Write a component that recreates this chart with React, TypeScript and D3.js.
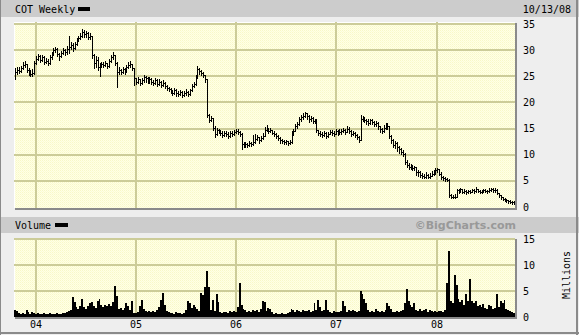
import React from 'react';
import * as d3 from 'd3';

const W = 579;
const H = 335;

const seriesTitle = 'COT Weekly';
const lastDateLabel = '10/13/08';
const firstWeek = new Date(2003, 9, 17);

const closes = [
  25.8, 26.2, 26.0, 26.5, 27.2, 27.4, 26.2, 25.8, 25.4, 25.6,
  27.6, 28.4, 28.8, 28.2, 28.6, 27.8, 28.0, 27.6, 28.6, 29.2,
  30.0, 30.2, 29.2, 28.8, 29.4, 30.0, 29.6, 30.2, 30.6, 31.0,
  30.4, 31.2, 32.0, 32.4, 32.8, 33.4, 33.0, 33.2, 32.6, 32.8,
  29.0, 27.6, 28.2, 26.8, 27.0, 27.4, 27.2, 27.6, 27.0, 28.0,
  28.6, 29.0, 27.6, 25.8, 26.2, 25.8, 26.4, 26.0, 26.8, 27.2,
  27.4, 26.6, 24.6, 24.0, 24.4, 23.8, 24.2, 24.8, 24.6, 24.2,
  24.4, 24.0, 23.8, 24.2, 23.6, 24.0, 23.4, 23.8, 23.2, 22.8,
  22.6, 22.2, 21.8, 22.4, 21.8, 21.6, 22.0, 21.4, 21.8, 22.0,
  21.6, 22.4, 23.2, 23.6, 24.8, 26.4, 26.0, 25.6, 25.2, 24.4,
  17.6, 16.6, 17.0, 15.2, 14.0, 14.8, 14.6, 14.2, 13.8, 14.2,
  14.0, 13.6, 14.2, 14.0, 14.4, 14.6, 14.4, 14.0, 12.0, 11.8,
  12.0, 11.8, 12.2, 12.0, 12.4, 13.0, 13.4, 12.8, 13.2, 13.6,
  14.8, 15.2, 14.6, 14.8, 14.2, 14.0, 13.6, 13.2, 12.8, 12.6,
  12.4, 12.6, 12.2, 12.4, 13.8, 14.6, 15.4, 15.8, 16.8, 17.2,
  17.4, 18.0, 17.4, 16.8, 17.0, 16.4, 16.6, 14.8, 14.2, 14.0,
  13.8, 14.2, 13.6, 14.0, 14.4, 14.2, 14.0, 14.6, 14.2, 14.4,
  14.6, 14.8, 14.4, 15.0, 14.6, 14.0, 14.2, 13.8, 13.4, 12.9,
  16.8, 17.2, 16.6, 16.4, 16.0, 16.6, 16.2, 15.8, 16.0, 15.4,
  15.0, 14.6, 15.2, 15.8, 15.4, 13.6, 12.8, 11.8, 12.2, 11.4,
  11.0, 10.6, 10.2, 8.6, 8.0, 7.6, 7.8, 7.4, 7.6, 6.6,
  6.6, 6.2, 6.0, 5.8, 6.2, 5.8, 6.0, 6.4, 6.6, 7.0,
  7.2, 6.4, 5.8, 5.6, 5.4, 5.2, 2.2, 2.0, 1.9, 2.0,
  3.2, 3.0, 3.4, 2.9, 3.1, 2.8, 3.0, 2.9, 3.2, 3.0,
  3.4, 3.1, 2.9, 3.0, 3.2, 3.1, 3.0, 3.3, 3.4, 3.3,
  3.3, 2.6, 2.2, 1.9, 1.6, 1.4, 1.3, 1.1, 1.0, 0.9, 0.8,
];

const highs = [
  26.6, 26.8, 26.7, 27.0, 27.8, 28.0, 27.4, 26.6, 26.2, 26.3,
  27.9, 28.9, 29.3, 29.0, 29.1, 28.8, 28.5, 28.3, 29.0, 29.6,
  30.4, 30.6, 30.4, 29.5, 29.8, 30.4, 30.3, 30.8, 32.8, 31.5,
  31.4, 31.6, 32.4, 32.8, 33.2, 34.0, 33.8, 33.6, 33.4, 33.2,
  32.8, 29.3, 28.8, 28.6, 27.6, 27.8, 27.7, 28.0, 27.6, 28.4,
  29.0, 29.6, 29.1, 27.8, 26.8, 26.4, 26.8, 26.6, 27.2, 27.8,
  27.9, 27.4, 26.6, 24.6, 24.9, 24.5, 24.7, 25.2, 25.0, 24.8,
  24.8, 24.6, 24.3, 24.6, 24.4, 24.4, 24.1, 24.2, 23.9, 23.4,
  23.0, 22.8, 22.4, 22.8, 22.5, 22.1, 22.4, 22.1, 22.2, 22.5,
  22.2, 22.6, 23.6, 24.0, 25.2, 26.9, 26.6, 26.2, 25.8, 25.3,
  24.4, 17.8, 17.4, 17.1, 15.4, 15.2, 15.0, 14.7, 14.5, 14.6,
  14.5, 14.3, 14.6, 14.5, 14.8, 15.0, 14.9, 14.6, 14.2, 12.4,
  12.4, 12.3, 12.6, 12.5, 13.8, 14.0, 13.8, 13.4, 13.6, 14.2,
  15.3, 15.6, 15.2, 15.2, 14.8, 14.5, 14.1, 13.8, 13.4, 13.1,
  12.9, 12.9, 12.7, 12.8, 14.6, 15.0, 15.8, 16.2, 17.2, 17.6,
  17.9, 18.2, 18.0, 17.6, 17.4, 17.2, 16.9, 16.8, 14.8, 14.5,
  14.3, 14.6, 14.4, 14.4, 14.8, 14.7, 14.5, 15.0, 14.8, 14.9,
  15.0, 15.2, 15.0, 15.4, 15.3, 14.8, 14.6, 14.4, 13.9, 13.6,
  17.6, 17.5, 17.2, 16.9, 16.8, 16.9, 16.8, 16.4, 16.4, 16.2,
  15.4, 15.1, 15.6, 16.1, 16.0, 15.5, 13.8, 13.0, 12.6, 12.4,
  11.6, 11.2, 10.9, 10.4, 8.9, 8.4, 8.2, 8.0, 7.9, 7.6,
  7.0, 6.8, 6.5, 6.4, 6.6, 6.4, 6.5, 6.8, 7.0, 7.4,
  7.5, 7.3, 6.6, 6.0, 5.8, 5.6, 5.3, 2.4, 2.3, 2.4,
  3.4, 3.5, 3.6, 3.5, 3.4, 3.3, 3.3, 3.2, 3.5, 3.4,
  3.9, 3.5, 3.3, 3.3, 3.5, 3.5, 3.3, 3.6, 3.7, 3.6,
  3.6, 3.4, 2.7, 2.3, 2.0, 1.8, 1.6, 1.4, 1.3, 1.2, 1.1,
];

const lows = [
  24.4, 25.4, 25.6, 25.8, 26.3, 26.8, 25.9, 25.3, 25.0, 25.1,
  25.5, 27.3, 28.1, 27.8, 28.0, 27.4, 27.5, 27.1, 27.4, 28.4,
  29.0, 29.6, 28.9, 28.2, 28.6, 29.2, 29.0, 29.3, 29.4, 30.2,
  29.8, 30.2, 31.0, 31.8, 32.2, 32.6, 32.5, 32.6, 32.1, 32.2,
  28.5, 26.6, 26.8, 26.2, 25.0, 26.7, 26.8, 27.0, 26.6, 26.8,
  27.8, 28.3, 27.2, 23.0, 25.5, 25.4, 25.6, 25.5, 25.8, 26.6,
  26.8, 26.2, 23.4, 23.5, 23.8, 23.4, 23.6, 24.0, 24.0, 23.7,
  23.8, 23.6, 23.3, 23.6, 23.2, 23.4, 23.0, 23.2, 22.7, 22.3,
  22.1, 21.8, 21.4, 21.6, 21.3, 21.2, 21.4, 21.0, 21.2, 21.5,
  21.2, 21.5, 22.2, 22.9, 23.4, 24.6, 25.5, 25.2, 24.8, 24.0,
  17.2, 16.3, 16.5, 14.8, 13.4, 13.8, 14.1, 13.8, 13.4, 13.6,
  13.5, 13.2, 13.4, 13.6, 13.8, 14.1, 14.0, 13.6, 11.0, 11.4,
  11.5, 11.4, 11.7, 11.6, 11.8, 12.3, 12.8, 12.3, 12.6, 13.0,
  13.6, 14.6, 14.2, 14.3, 13.9, 13.6, 13.2, 12.8, 12.3, 12.2,
  12.0, 12.1, 11.9, 12.0, 12.2, 13.8, 14.5, 15.2, 15.6, 16.5,
  16.9, 17.3, 16.9, 16.3, 16.4, 16.0, 16.1, 14.4, 13.8, 13.5,
  13.3, 13.6, 13.2, 13.4, 13.9, 13.8, 13.6, 13.9, 13.8, 13.9,
  14.0, 14.3, 14.0, 14.3, 14.2, 13.6, 13.7, 13.4, 13.0, 12.4,
  12.9, 16.4, 16.2, 15.9, 15.6, 15.9, 15.8, 15.4, 15.5, 14.9,
  14.4, 14.1, 14.4, 15.0, 15.0, 13.2, 12.2, 11.4, 11.2, 10.8,
  10.3, 10.1, 9.8, 8.2, 7.6, 7.2, 7.3, 7.0, 7.0, 6.2,
  5.9, 5.8, 5.6, 5.5, 5.6, 5.5, 5.6, 5.9, 6.2, 6.4,
  6.7, 6.2, 5.4, 5.2, 5.0, 4.9, 1.9, 1.7, 1.7, 1.7,
  2.0, 2.7, 2.8, 2.7, 2.7, 2.5, 2.7, 2.6, 2.8, 2.7,
  2.9, 2.8, 2.6, 2.7, 2.8, 2.8, 2.7, 2.9, 3.0, 2.9,
  2.9, 2.4, 2.0, 1.6, 1.3, 1.1, 1.0, 0.8, 0.7, 0.6, 0.6,
];

// weekly volume, millions of shares
const volumes = [
  1.3, 1.1, 0.7, 0.6, 0.8, 0.5, 1.4, 0.9, 0.5, 1.0,
  0.7, 0.6, 0.8, 0.5, 0.6, 0.7, 0.5, 0.6, 0.8, 0.6,
  0.5, 0.6, 0.7, 0.5, 0.6, 0.8, 0.7, 1.0, 1.2, 1.4,
  3.9, 2.8, 2.0, 1.6, 2.2, 3.4, 2.0, 1.5, 2.2, 2.6,
  2.8, 2.2, 1.8, 3.0, 3.4, 2.4, 2.0, 2.3, 2.1, 2.5,
  2.2, 2.8, 6.0, 4.0, 1.6, 1.8, 1.4, 1.7, 2.6, 2.2,
  1.4, 3.0, 0.8, 0.7, 1.0, 2.2, 3.2, 1.6, 1.1, 1.0,
  1.1, 0.9, 1.2, 1.0, 1.3, 2.0, 3.2, 4.6, 2.4, 1.2,
  0.9, 0.7, 0.8, 0.6, 0.9, 0.7, 0.8, 0.6, 0.8, 1.4,
  3.0, 2.6, 1.8, 2.3, 2.0, 1.6, 1.2, 4.7, 4.2, 5.8,
  8.8, 5.8, 1.4, 3.2, 1.2, 4.5, 2.8, 1.0, 0.8, 0.9,
  1.0, 0.8, 1.1, 0.9, 1.2, 0.9, 2.0, 6.5, 2.4, 1.5,
  1.3, 1.0, 1.2, 0.9, 1.4, 1.1, 1.3, 1.0, 1.6, 3.1,
  2.8, 1.2, 1.8, 1.6, 0.9, 0.6, 0.7, 0.5, 0.6, 0.7,
  0.5, 0.6, 0.7, 0.9, 1.6, 1.4, 1.0, 1.3, 1.2, 1.0,
  1.3, 1.1, 1.2, 1.4, 1.0, 1.2, 2.7, 1.4, 3.2, 2.0,
  1.2, 1.4, 3.2, 1.3, 1.0, 0.8, 1.1, 0.9, 1.0, 0.9,
  1.2, 3.0, 2.2, 1.0, 1.3, 1.1, 1.4, 1.2, 1.0, 1.1,
  5.0, 4.4, 3.5, 2.6, 1.4, 1.0, 1.2, 0.9, 1.6, 1.1,
  1.0, 1.2, 0.9, 1.3, 2.7, 2.2, 1.6, 1.0, 0.9, 1.1,
  1.0, 1.2, 1.4, 2.6, 5.4, 3.0, 2.4, 2.0, 2.6, 1.4,
  1.2, 1.5, 1.1, 1.3, 1.6, 1.0, 1.4, 1.2, 1.0, 1.1,
  0.9, 1.1, 1.2, 1.0, 1.3, 6.6, 12.6, 3.0, 2.6, 8.1,
  6.1, 3.4, 2.8, 3.2, 2.4, 4.5, 3.0, 7.3, 3.0, 2.6,
  3.0, 2.2, 2.4, 2.0, 2.5, 1.8, 1.6, 2.4, 2.2, 1.6,
  1.8, 4.4, 2.0, 3.0, 2.6, 3.2, 1.6, 1.4, 1.2, 1.0, 0.8,
];

const priceTicks = [0, 5, 10, 15, 20, 25, 30, 35];
const volumeTicks = [0, 5, 10, 15];
const yearLabels = ['04', '05', '06', '07', '08'];
const yearValues = [2004, 2005, 2006, 2007, 2008];

const MONO = '"DejaVu Sans Mono", monospace';

export default function App() {
  const dates = closes.map((_, i) => d3.timeDay.offset(firstWeek, 7 * i));

  const plotL = 14;
  const plotR = 515;
  const pTop = 22;
  const pBot = 208;
  const vTop = 238;
  const vBot = 317;

  const x = d3
    .scaleTime()
    .domain([new Date(2003, 9, 13), new Date(2008, 9, 13)])
    .range([plotL, plotR]);
  const yP = d3.scaleLinear().domain([0, 35]).range([207, 24]);
  const yV = d3.scaleLinear().domain([0, 15]).range([317, 239]);

  const grid = '#cccc99';

  const yearXs = yearValues.map((yv) => Math.round(x(new Date(yv, 0, 1))));

  const volPts = volumes.map((v, i) => ({ x: Math.round(x(dates[i])) - 1, v }));
  volPts.push({ x: Math.round(x(dates[dates.length - 1])) + 1, v: volumes[volumes.length - 1] });
  const volArea = d3
    .area<{ x: number; v: number }>()
    .x((p) => p.x)
    .y0(vBot)
    .y1((p) => Math.round(yV(p.v)))
    .curve(d3.curveStepAfter)(volPts) as string;

  const panel = (top: number, bot: number) => (
    <g>
      <rect x={plotL} y={top} width={plotR - plotL} height={bot - top} fill="url(#bgdots)" />
      <line x1={plotL + 0.5} y1={top} x2={plotL + 0.5} y2={bot} stroke="#ffffff" />
      <line x1={plotL} y1={top + 0.5} x2={plotR} y2={top + 0.5} stroke="#ffffff" />
    </g>
  );

  const shadow = (top: number, bot: number) => (
    <g>
      <line x1={plotR + 1} y1={top + 1} x2={plotR + 1} y2={bot + 2} stroke="#8a8a8a" strokeWidth={2} />
      <line x1={plotL + 1} y1={bot + 1} x2={plotR + 2} y2={bot + 1} stroke="#8a8a8a" strokeWidth={2} />
    </g>
  );

  return (
    <div style={{ position: 'absolute', left: 0, top: 0 }}>
      <svg width={W} height={H} style={{ display: 'block' }} shapeRendering="crispEdges">
        <defs>
          <pattern id="bgdots" width={2} height={2} patternUnits="userSpaceOnUse">
            <rect width={2} height={2} fill="#ffffe6" />
            <rect x={0} y={0} width={1} height={1} fill="#f8f8c8" />
            <rect x={1} y={1} width={1} height={1} fill="#fcfcd4" />
          </pattern>
        </defs>
        <rect x={0} y={0} width={W} height={H} fill="#eeeeee" />
        {/* header bars */}
        <rect x={0} y={0} width={W} height={17} fill="#cccccc" />
        <rect x={0} y={217} width={W} height={16} fill="#cccccc" />
        {/* outer border */}
        <line x1={0.5} y1={0} x2={0.5} y2={H} stroke="#8a8a8a" />
        <line x1={W - 2} y1={0} x2={W - 2} y2={H} stroke="#8a8a8a" strokeWidth={2} />
        <line x1={0} y1={H - 2} x2={W} y2={H - 2} stroke="#8a8a8a" strokeWidth={2} />

        {panel(pTop, pBot)}
        {panel(vTop, vBot)}

        {/* grid lines - price */}
        {priceTicks.filter((t) => t > 0).map((t) => (
          <line key={'pg' + t} x1={plotL} x2={plotR} y1={Math.round(yP(t))} y2={Math.round(yP(t))} stroke={grid} strokeWidth={2} />
        ))}
        {yearXs.map((xx, i) => (
          <line key={'pv' + i} x1={xx} x2={xx} y1={pTop} y2={pBot} stroke={grid} strokeWidth={2} />
        ))}
        {/* grid lines - volume */}
        {volumeTicks.filter((t) => t > 0).map((t) => (
          <line key={'vg' + t} x1={plotL} x2={plotR} y1={Math.round(yV(t))} y2={Math.round(yV(t))} stroke={grid} strokeWidth={2} />
        ))}
        {yearXs.map((xx, i) => (
          <line key={'vv' + i} x1={xx} x2={xx} y1={vTop} y2={vBot} stroke={grid} strokeWidth={2} />
        ))}

        {/* price HLC bars */}
        <g stroke="#000000" strokeWidth={1}>
          {dates.map((d, i) => {
            const xi = Math.round(x(d)) + 0.5;
            const yc = Math.round(yP(closes[i])) + 0.5;
            return (
              <g key={'b' + i}>
                <line x1={xi} x2={xi} y1={Math.round(yP(highs[i]))} y2={Math.round(yP(lows[i])) + 1} />
                <line x1={xi} x2={xi + 1.5} y1={yc} y2={yc} />
              </g>
            );
          })}
        </g>

        {/* volume area */}
        <path d={volArea} fill="#000000" />

        {shadow(pTop, pBot)}
        {shadow(vTop, vBot)}

        {/* header texts */}
        <g fontFamily={MONO} fontSize={10} fill="#000000" shapeRendering="auto">
          <text x={15} y={13}>{seriesTitle}</text>
          <rect x={78} y={7} width={12} height={4} fill="#000000" />
          <text x={571} y={13} textAnchor="end">{lastDateLabel}</text>
          <text x={15} y={229}>Volume</text>
          <rect x={55} y={223} width={13} height={4} fill="#000000" />

          {priceTicks.map((t) => (
            <text key={'pl' + t} x={523} y={yP(t)} dy="0.36em">{t}</text>
          ))}
          {volumeTicks.map((t) => (
            <text key={'vl' + t} x={523} y={yV(t)} dy="0.36em">{t}</text>
          ))}
          {yearLabels.map((lab, i) => (
            <text key={'yl' + i} x={yearXs[i]} y={328} textAnchor="middle">{lab}</text>
          ))}
          <text transform="translate(570,275) rotate(-90)" textAnchor="middle">Millions</text>
        </g>
        <text
          x={516}
          y={229}
          textAnchor="end"
          fontFamily='"DejaVu Sans", Verdana, sans-serif'
          fontWeight="bold"
          fontSize={11}
          fill="#999999"
        >
          ©BigCharts.com
        </text>
      </svg>
    </div>
  );
}
